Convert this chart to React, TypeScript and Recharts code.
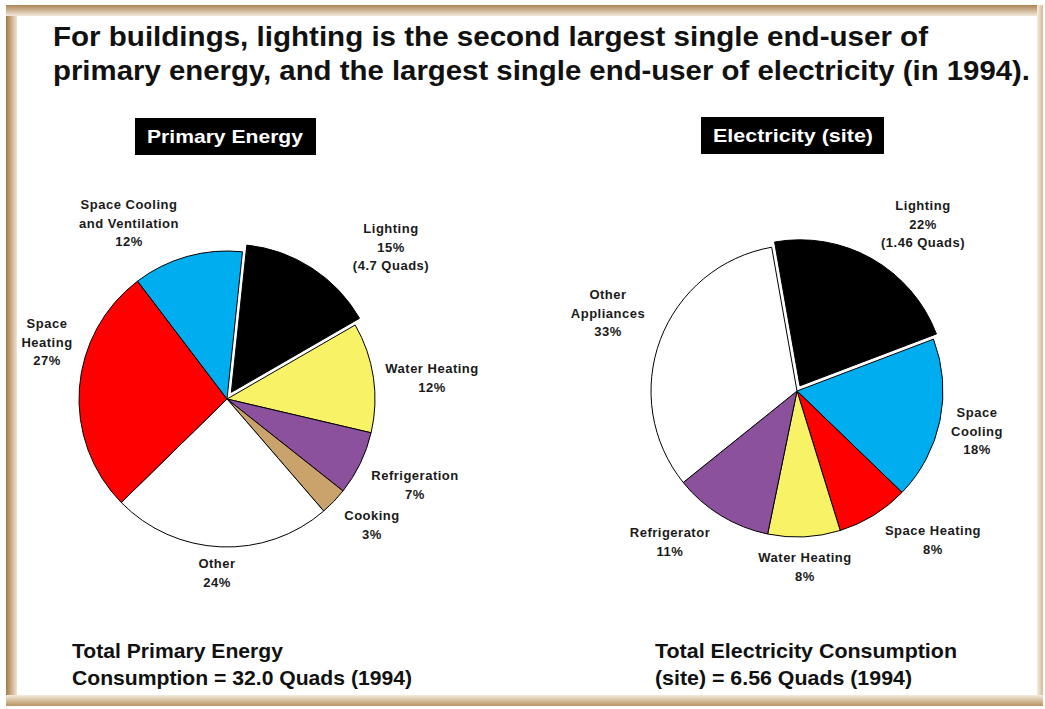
import { PieChart, Pie, Cell } from 'recharts';

// Primary energy end uses, 1994 (percent)
const primaryNames = ['Lighting', 'Water Heating', 'Refrigeration', 'Cooking', 'Other', 'Space\nHeating', 'Space Cooling\nand Ventilation'];
const primaryShares = [15, 12, 7, 3, 24, 27, 12];
const primaryNotes = ['(4.7 Quads)', '', '', '', '', '', ''];
const primaryColors = ['#000000', '#f8f267', '#8b519d', '#c9a26c', '#ffffff', '#ff0000', '#00aeef'];

// Site electricity end uses, 1994 (percent)
const elecNames = ['Lighting', 'Space\nCooling', 'Space Heating', 'Water Heating', 'Refrigerator', 'Other\nAppliances'];
const elecShares = [22, 18, 8, 8, 11, 33];
const elecNotes = ['(1.46 Quads)', '', '', '', '', ''];
const elecColors = ['#000000', '#00aeef', '#ff0000', '#f8f267', '#8b519d', '#ffffff'];

const titleLines = [
  'For buildings, lighting is the second largest single end-user of',
  'primary energy, and the largest single end-user of electricity (in 1994).',
];
const primaryFooter = ['Total Primary Energy', 'Consumption = 32.0 Quads (1994)'];
const elecFooter = ['Total Electricity Consumption', '(site) = 6.56 Quads (1994)'];

// layout (label offsets are relative to the pie centre)
const PRIMARY = { cx: 227, cy: 399, r: 148, start: 84, explode: 8 };
const ELEC = { cx: 797, cy: 391, r: 146, start: 100, explode: 6 };
const primaryLabelAt = [[164, -152], [205, -21], [188, 86], [145, 126], [-10, 174], [-180, -57], [-98, -176]];
const elecLabelAt = [[126, -167], [180, 40], [136, 149], [8, 176], [-127, 151], [-189, -78]];

const FONT = '"Liberation Sans", Arial, Helvetica, sans-serif';
const LINE_H = 18.5;

function renderPie(
  id: string,
  names: string[],
  shares: number[],
  notes: string[],
  colors: string[],
  labelAt: number[][],
  L: typeof PRIMARY,
) {
  const data = names.map((n, i) => ({ name: n, value: shares[i] }));
  const total = shares.reduce((a, b) => a + b, 0);
  const mid = ((L.start - (shares[0] / total) * 180) * Math.PI) / 180;
  const ex = L.cx + L.explode * Math.cos(mid);
  const ey = L.cy - L.explode * Math.sin(mid);

  const label = (p: any) => {
    const i = p.index;
    const lines = [...names[i].split('\n'), `${shares[i]}%`];
    if (notes[i]) lines.push(notes[i]);
    const x = (p.cx ?? L.cx) + labelAt[i][0];
    const top = (p.cy ?? L.cy) + labelAt[i][1] - ((lines.length - 1) * LINE_H) / 2;
    return (
      <text key={`${id}-lbl-${i}`} x={x} y={top} textAnchor="middle" fontFamily={FONT} fontWeight="bold"
        fontSize={13} letterSpacing={0.5} fill="#1a1a1a">
        {lines.map((t, k) => (
          <tspan key={k} x={x} y={top + k * LINE_H + 4.6}>{t}</tspan>
        ))}
      </text>
    );
  };

  return [
    <Pie key={`${id}-base`} data={data} dataKey="value" nameKey="name" cx={L.cx} cy={L.cy}
      outerRadius={L.r} startAngle={L.start} endAngle={L.start - 360} isAnimationActive={false}
      labelLine={false} label={label}>
      {data.map((d, i) => (
        <Cell key={i} fill={i === 0 ? '#ffffff' : colors[i]} stroke={i === 0 ? 'none' : '#000'} strokeWidth={1} />
      ))}
    </Pie>,
    // the lighting slice, pulled out from the centre
    <Pie key={`${id}-out`} data={data} dataKey="value" nameKey="name" cx={ex} cy={ey}
      outerRadius={L.r} startAngle={L.start} endAngle={L.start - 360} isAnimationActive={false}
      labelLine={false} label={false}>
      {data.map((d, i) => (
        <Cell key={i} fill={i === 0 ? colors[0] : 'none'} stroke={i === 0 ? '#000' : 'none'} strokeWidth={1} />
      ))}
    </Pie>,
  ];
}

export default function App() {
  const strip = (s: React.CSSProperties) => <div style={{ position: 'absolute', ...s }} />;
  return (
    <div style={{ position: 'absolute', left: 0, top: 0, width: 1045, height: 709, background: '#fff', overflow: 'hidden' }}>
      {strip({ left: 6, top: 5, width: 11, height: 701, background: 'linear-gradient(to right, #a47a48, #f0e4d2)' })}
      {strip({ left: 6, top: 5, width: 1037, height: 11, background: 'linear-gradient(to bottom, #ab8354, #f3e9da)' })}
      {strip({ left: 1037, top: 5, width: 6, height: 701, background: 'linear-gradient(to right, #f5eee2, #d5bb95)' })}
      {strip({ left: 6, top: 695, width: 1037, height: 11, background: 'linear-gradient(to bottom, #f4ebdc, #b89462)' })}

      <div style={{ position: 'absolute', left: 0, top: 0 }}>
        <PieChart width={1045} height={709} margin={{ top: 0, right: 0, bottom: 0, left: 0 }}>
          {renderPie('pe', primaryNames, primaryShares, primaryNotes, primaryColors, primaryLabelAt, PRIMARY)}
          {renderPie('el', elecNames, elecShares, elecNotes, elecColors, elecLabelAt, ELEC)}
        </PieChart>
      </div>

      <svg width={1045} height={709} style={{ position: 'absolute', left: 0, top: 0, pointerEvents: 'none' }}>
        <g fontFamily={FONT} fontWeight="bold" fill="#111">
          <text x={53} y={46} fontSize={28} textLength={875} lengthAdjust="spacingAndGlyphs">{titleLines[0]}</text>
          <text x={53} y={80} fontSize={28} textLength={977} lengthAdjust="spacingAndGlyphs">{titleLines[1]}</text>

          <rect x={135} y={118} width={181} height={37} fill="#000" />
          <text x={147} y={143} fontSize={19} fill="#fff" textLength={156} lengthAdjust="spacingAndGlyphs">Primary Energy</text>
          <rect x={701} y={117} width={183} height={37} fill="#000" />
          <text x={713} y={142} fontSize={19} fill="#fff" textLength={160} lengthAdjust="spacingAndGlyphs">Electricity (site)</text>

          <text x={72} y={658} fontSize={21} textLength={211} lengthAdjust="spacingAndGlyphs">{primaryFooter[0]}</text>
          <text x={72} y={685} fontSize={21} textLength={340} lengthAdjust="spacingAndGlyphs">{primaryFooter[1]}</text>
          <text x={655} y={658} fontSize={21} textLength={302} lengthAdjust="spacingAndGlyphs">{elecFooter[0]}</text>
          <text x={655} y={685} fontSize={21} textLength={257} lengthAdjust="spacingAndGlyphs">{elecFooter[1]}</text>
        </g>
      </svg>
    </div>
  );
}
